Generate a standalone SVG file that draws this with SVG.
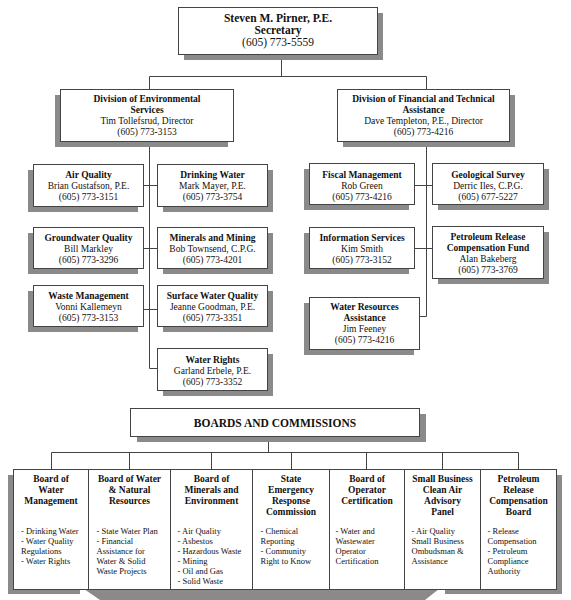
<svg xmlns="http://www.w3.org/2000/svg" width="571" height="600" viewBox="0 0 571 600">
<style>
.box{fill:#fff;stroke:#444;stroke-width:1}
.sh{fill:#8a8a8a}
.conn{stroke:#444;stroke-width:1;fill:none}
text{font-family:"Liberation Serif","Times New Roman",serif;fill:#111;text-anchor:middle;font-size:9.5px}
.b{font-weight:bold}
.big{font-size:11.5px}
.li{text-anchor:start;font-size:8.5px}
</style>
<rect width="571" height="600" fill="#fff"/>

<g id="connectors">
<path class="conn" d="M281.5,54 V76.5 M149.5,76.5 H426.5 M149.5,76.5 V89 M426.5,76.5 V89"/>
<path class="conn" d="M149.5,141 V368.5 H157 M143,185.5 H157 M143,248.5 H157 M143,309.5 H157"/>
<path class="conn" d="M426.5,141 V316.5 H419 M414,185.5 H432 M414,248.5 H432"/>
<path class="conn" d="M268.5,436 V452.5 M51.5,452.5 H518.5 M51.5,452.5 V469 M129.5,452.5 V469 M211.5,452.5 V469 M291.5,452.5 V469 M366.5,452.5 V469 M442.5,452.5 V469 M518.5,452.5 V469"/>
</g>

<g id="secretary">
<rect class="sh" x="184" y="13" width="199" height="47"/>
<rect class="box" x="178.5" y="7.5" width="199" height="47"/>
<text class="b big" x="278" y="22">Steven M. Pirner, P.E.</text>
<text class="b big" x="278" y="34">Secretary</text>
<text class="big" x="278" y="46">(605) 773-5559</text>
</g>

<g id="div-env">
<rect class="sh" x="55" y="95" width="173" height="52"/>
<rect class="box" x="60.5" y="89.5" width="173" height="52"/>
<text class="b" x="147" y="102">Division of Environmental</text>
<text class="b" x="147" y="113">Services</text>
<text x="147" y="124">Tim Tollefsrud, Director</text>
<text x="147" y="135">(605) 773-3153</text>
</g>

<g id="div-fin">
<rect class="sh" x="343" y="95" width="172" height="52"/>
<rect class="box" x="337.5" y="89.5" width="172" height="52"/>
<text class="b" x="423.5" y="102">Division of Financial and Technical</text>
<text class="b" x="423.5" y="113">Assistance</text>
<text x="423.5" y="124">Dave Templeton, P.E., Director</text>
<text x="423.5" y="135">(605) 773-4216</text>
</g>

<g id="air-quality">
<rect class="sh" x="28" y="170" width="110" height="42"/>
<rect class="box" x="33.5" y="164.5" width="110" height="42"/>
<text class="b" x="88.5" y="178">Air Quality</text>
<text x="88.5" y="189">Brian Gustafson, P.E.</text>
<text x="88.5" y="200">(605) 773-3151</text>
</g>

<g id="drinking-water">
<rect class="sh" x="163" y="170" width="110" height="42"/>
<rect class="box" x="157.5" y="164.5" width="110" height="42"/>
<text class="b" x="212.5" y="178">Drinking Water</text>
<text x="212.5" y="189">Mark Mayer, P.E.</text>
<text x="212.5" y="200">(605) 773-3754</text>
</g>

<g id="groundwater">
<rect class="sh" x="28" y="233" width="110" height="41"/>
<rect class="box" x="33.5" y="227.5" width="110" height="41"/>
<text class="b" x="88.5" y="241">Groundwater Quality</text>
<text x="88.5" y="252">Bill Markley</text>
<text x="88.5" y="263">(605) 773-3296</text>
</g>

<g id="minerals">
<rect class="sh" x="163" y="233" width="110" height="41"/>
<rect class="box" x="157.5" y="227.5" width="110" height="41"/>
<text class="b" x="212.5" y="241">Minerals and Mining</text>
<text x="212.5" y="252">Bob Townsend, C.P.G.</text>
<text x="212.5" y="263">(605) 773-4201</text>
</g>

<g id="waste">
<rect class="sh" x="28" y="291" width="110" height="41"/>
<rect class="box" x="33.5" y="285.5" width="110" height="41"/>
<text class="b" x="88.5" y="299">Waste Management</text>
<text x="88.5" y="310">Vonni Kallemeyn</text>
<text x="88.5" y="321">(605) 773-3153</text>
</g>

<g id="surface-water">
<rect class="sh" x="163" y="291" width="110" height="41"/>
<rect class="box" x="157.5" y="285.5" width="110" height="41"/>
<text class="b" x="212.5" y="299">Surface Water Quality</text>
<text x="212.5" y="310">Jeanne Goodman, P.E.</text>
<text x="212.5" y="321">(605) 773-3351</text>
</g>

<g id="water-rights">
<rect class="sh" x="163" y="354" width="110" height="42"/>
<rect class="box" x="157.5" y="348.5" width="110" height="42"/>
<text class="b" x="212.5" y="363">Water Rights</text>
<text x="212.5" y="374">Garland Erbele, P.E.</text>
<text x="212.5" y="385">(605) 773-3352</text>
</g>

<g id="fiscal">
<rect class="sh" x="304" y="169" width="105" height="41"/>
<rect class="box" x="309.5" y="163.5" width="105" height="41"/>
<text class="b" x="362" y="178">Fiscal Management</text>
<text x="362" y="189">Rob Green</text>
<text x="362" y="200">(605) 773-4216</text>
</g>

<g id="geological">
<rect class="sh" x="438" y="169" width="111" height="41"/>
<rect class="box" x="432.5" y="163.5" width="111" height="41"/>
<text class="b" x="488" y="178">Geological Survey</text>
<text x="488" y="189">Derric Iles, C.P.G.</text>
<text x="488" y="200">(605) 677-5227</text>
</g>

<g id="info-services">
<rect class="sh" x="304" y="233" width="105" height="41"/>
<rect class="box" x="309.5" y="227.5" width="105" height="41"/>
<text class="b" x="362" y="241">Information Services</text>
<text x="362" y="252">Kim Smith</text>
<text x="362" y="263">(605) 773-3152</text>
</g>

<g id="petroleum-fund">
<rect class="sh" x="438" y="232" width="111" height="52"/>
<rect class="box" x="432.5" y="226.5" width="111" height="52"/>
<text class="b" x="488" y="240">Petroleum Release</text>
<text class="b" x="488" y="251">Compensation Fund</text>
<text x="488" y="262">Alan Bakeberg</text>
<text x="488" y="273">(605) 773-3769</text>
</g>

<g id="water-resources">
<rect class="sh" x="304" y="303" width="110" height="52"/>
<rect class="box" x="309.5" y="297.5" width="110" height="52"/>
<text class="b" x="364.5" y="310">Water Resources</text>
<text class="b" x="364.5" y="321">Assistance</text>
<text x="364.5" y="332">Jim Feeney</text>
<text x="364.5" y="343">(605) 773-4216</text>
</g>

<g id="boards-header">
<rect class="sh" x="137" y="414" width="289" height="28"/>
<rect class="box" x="130.5" y="408.5" width="289" height="28"/>
<text class="b big" x="275" y="427">BOARDS AND COMMISSIONS</text>
</g>

<g id="boards-shadow">
<rect class="sh" x="8" y="475" width="72" height="119"/>
<polygon class="sh" points="84,589 100,600 425,600 439,589"/>
<rect class="sh" x="445" y="475" width="117" height="119"/>
</g>

<g id="boards-frame">
<rect class="box" x="13.5" y="469.5" width="543" height="120"/>
<path class="conn" d="M88.5,469.5 V589.5 M170.5,469.5 V589.5 M252.5,469.5 V589.5 M329.5,469.5 V589.5 M404.5,469.5 V589.5 M480.5,469.5 V589.5"/>
</g>

<g id="board-water-management">
<text class="b" x="51" y="482">Board of</text>
<text class="b" x="51" y="493">Water</text>
<text class="b" x="51" y="504">Management</text>
<text class="li" x="21" y="534">- Drinking Water</text>
<text class="li" x="21" y="544">- Water Quality</text>
<text class="li" x="21" y="554">Regulations</text>
<text class="li" x="21" y="564">- Water Rights</text>
</g>

<g id="board-water-natural">
<text class="b" x="129.5" y="482">Board of Water</text>
<text class="b" x="129.5" y="493">&amp; Natural</text>
<text class="b" x="129.5" y="504">Resources</text>
<text class="li" x="96.5" y="534">- State Water Plan</text>
<text class="li" x="96.5" y="544">- Financial</text>
<text class="li" x="96.5" y="554">Assistance for</text>
<text class="li" x="96.5" y="564">Water &amp; Solid</text>
<text class="li" x="96.5" y="574">Waste Projects</text>
</g>

<g id="board-minerals">
<text class="b" x="211.5" y="482">Board of</text>
<text class="b" x="211.5" y="493">Minerals and</text>
<text class="b" x="211.5" y="504">Environment</text>
<text class="li" x="177.5" y="534">- Air Quality</text>
<text class="li" x="177.5" y="544">- Asbestos</text>
<text class="li" x="177.5" y="554">- Hazardous Waste</text>
<text class="li" x="177.5" y="564">- Mining</text>
<text class="li" x="177.5" y="574">- Oil and Gas</text>
<text class="li" x="177.5" y="584">- Solid Waste</text>
</g>

<g id="board-serc">
<text class="b" x="291" y="482">State</text>
<text class="b" x="291" y="493">Emergency</text>
<text class="b" x="291" y="504">Response</text>
<text class="b" x="291" y="515">Commission</text>
<text class="li" x="260.5" y="534">- Chemical</text>
<text class="li" x="260.5" y="544">Reporting</text>
<text class="li" x="260.5" y="554">- Community</text>
<text class="li" x="260.5" y="564">Right to Know</text>
</g>

<g id="board-operator">
<text class="b" x="367" y="482">Board of</text>
<text class="b" x="367" y="493">Operator</text>
<text class="b" x="367" y="504">Certification</text>
<text class="li" x="335.5" y="534">- Water and</text>
<text class="li" x="335.5" y="544">Wastewater</text>
<text class="li" x="335.5" y="554">Operator</text>
<text class="li" x="335.5" y="564">Certification</text>
</g>

<g id="board-small-business">
<text class="b" x="442.5" y="482">Small Business</text>
<text class="b" x="442.5" y="493">Clean Air</text>
<text class="b" x="442.5" y="504">Advisory</text>
<text class="b" x="442.5" y="515">Panel</text>
<text class="li" x="411.5" y="534">- Air Quality</text>
<text class="li" x="411.5" y="544">Small Business</text>
<text class="li" x="411.5" y="554">Ombudsman &amp;</text>
<text class="li" x="411.5" y="564">Assistance</text>
</g>

<g id="board-petroleum">
<text class="b" x="518.5" y="482">Petroleum</text>
<text class="b" x="518.5" y="493">Release</text>
<text class="b" x="518.5" y="504">Compensation</text>
<text class="b" x="518.5" y="515">Board</text>
<text class="li" x="487.5" y="534">- Release</text>
<text class="li" x="487.5" y="544">Compensation</text>
<text class="li" x="487.5" y="554">- Petroleum</text>
<text class="li" x="487.5" y="564">Compliance</text>
<text class="li" x="487.5" y="574">Authority</text>
</g>
</svg>
